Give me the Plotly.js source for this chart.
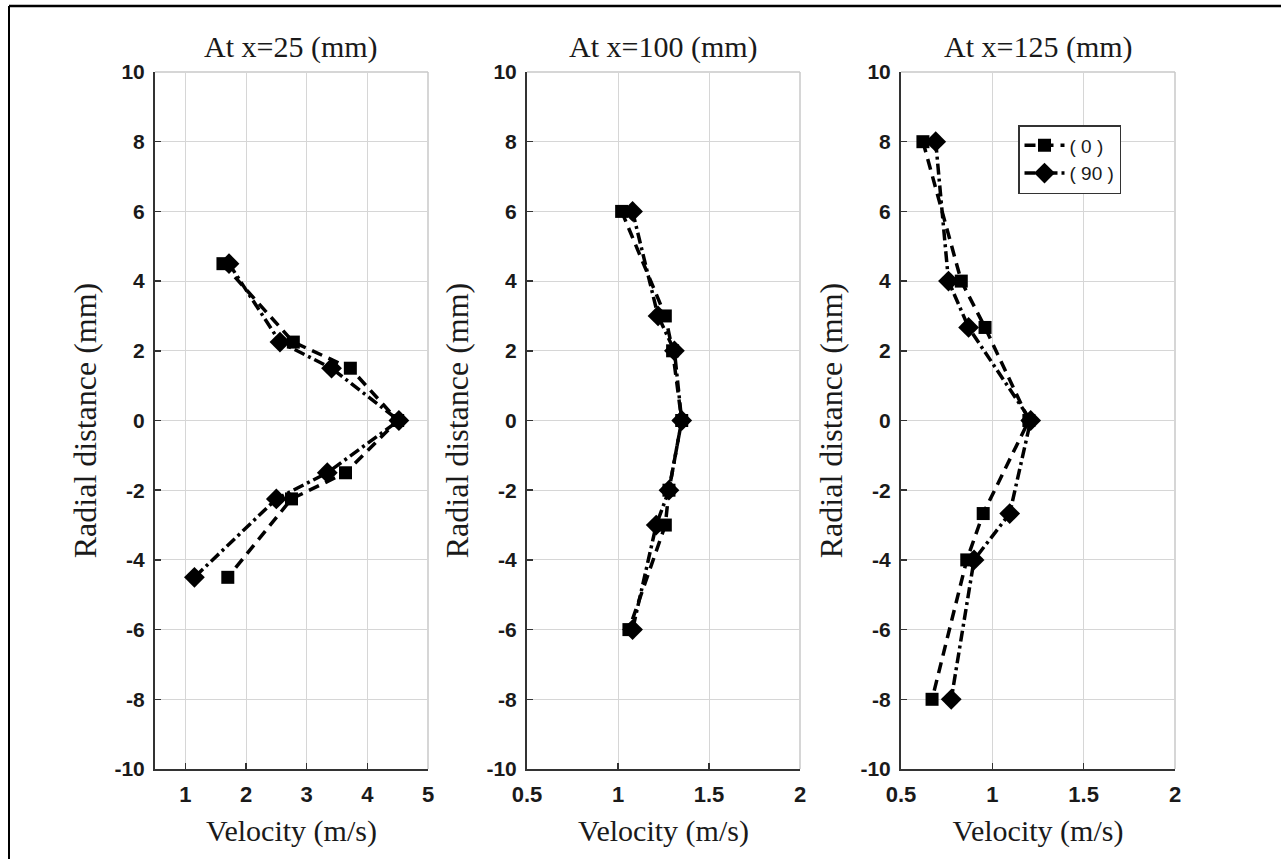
<!DOCTYPE html>
<html>
<head>
<meta charset="utf-8">
<script src="https://cdn.plot.ly/plotly-3.0.1.min.js"></script>
<style>
  html, body { margin: 0; padding: 0; background: #fff; }
  #chart { width: 1281px; height: 859px; }
</style>
</head>
<body>
<div id="chart"></div>
<script>
// ---- Data ----
const panelTitles = ["At x=25 (mm)", "At x=100 (mm)", "At x=125 (mm)"];
const seriesNames = ["( 0 )", "( 90 )"];

// Panel 1: x = 25 mm
const p1Radial = [4.5, 2.25, 1.5, 0, -1.5, -2.25, -4.5];
const p1Vel0   = [1.62, 2.78, 3.72, 4.50, 3.64, 2.75, 1.70];
const p1Vel90  = [1.72, 2.56, 3.41, 4.52, 3.34, 2.50, 1.15];

// Panel 2: x = 100 mm
const p2Radial = [6, 3, 2, 0, -2, -3, -6];
const p2Vel0   = [1.02, 1.26, 1.30, 1.35, 1.28, 1.26, 1.06];
const p2Vel90  = [1.08, 1.22, 1.31, 1.35, 1.28, 1.21, 1.08];

// Panel 3: x = 125 mm
const p3Radial = [8, 4, 2.67, 0, -2.67, -4, -8];
const p3Vel0   = [0.62, 0.83, 0.96, 1.20, 0.95, 0.86, 0.67];
const p3Vel90  = [0.69, 0.76, 0.87, 1.21, 1.095, 0.90, 0.775];

const p1XTicks = [1, 2, 3, 4, 5];
const p23XTicks = [0.5, 1, 1.5, 2];
const yTicks = [-10, -8, -6, -4, -2, 0, 2, 4, 6, 8, 10];

// ---- Layout geometry ----
const W = 1281, H = 859;
const px = v => v / W;
const py = v => 1 - v / H;
const xDomains = [[px(155), px(428)], [px(527), px(800)], [px(901), px(1175)]];
const yDomain = [py(769), py(72)];
const xRanges = [[0.5, 5], [0.5, 2], [0.5, 2]];

const serif = "Liberation Serif, Times New Roman, serif";
const sans = "Liberation Sans, Arial, sans-serif";
const ink = "#1a1a1a";

function mkTrace(x, y, idx, series, showlegend) {
  const ax = idx === 0 ? "" : String(idx + 1);
  return {
    type: "scatter",
    mode: "lines+markers",
    x: x, y: y,
    xaxis: "x" + ax, yaxis: "y" + ax,
    name: seriesNames[series],
    legendgroup: seriesNames[series],
    showlegend: showlegend,
    line: { color: "#000", width: 3.5, dash: series === 0 ? "11px,7px" : "11px,4px,3px,4px" },
    marker: series === 0
      ? { symbol: "square", size: 13, color: "#000" }
      : { symbol: "diamond", size: 16, color: "#000" },
    cliponaxis: false
  };
}

const traces = [
  mkTrace(p1Vel0, p1Radial, 0, 0, false),
  mkTrace(p1Vel90, p1Radial, 0, 1, false),
  mkTrace(p2Vel0, p2Radial, 1, 0, false),
  mkTrace(p2Vel90, p2Radial, 1, 1, false),
  mkTrace(p3Vel0, p3Radial, 2, 0, true),
  mkTrace(p3Vel90, p3Radial, 2, 1, true)
];

const layout = {
  width: W, height: H,
  margin: { l: 0, r: 0, t: 0, b: 0 },
  paper_bgcolor: "#fff",
  plot_bgcolor: "#fff",
  showlegend: true,
  legend: {
    x: px(1018), y: py(125), xanchor: "left", yanchor: "top",
    bgcolor: "#fff", bordercolor: "#333", borderwidth: 1.5,
    font: { family: sans, size: 19, color: ink },
    tracegroupgap: 0, itemwidth: 40
  },
  annotations: [],
  shapes: []
};

for (let i = 0; i < 3; i++) {
  const sfx = i === 0 ? "" : String(i + 1);
  layout["xaxis" + sfx] = {
    domain: xDomains[i],
    range: xRanges[i],
    anchor: "y" + sfx,
    tickmode: "array",
    tickvals: i === 0 ? p1XTicks : p23XTicks,
    ticktext: (i === 0 ? p1XTicks : p23XTicks).map(String),
    ticks: "inside", ticklen: 6, tickwidth: 1.5, tickcolor: "#333",
    showline: true, linecolor: "#333", linewidth: 2,
    showgrid: true, gridcolor: "#d6d6d6", gridwidth: 1,
    zeroline: false,
    tickfont: { family: sans, size: 22, color: ink, weight: "bold" },
    ticklabelstandoff: 5,
    title: { text: "Velocity (m/s)", font: { family: serif, size: 30, color: ink }, standoff: 14 },
    fixedrange: true
  };
  layout["yaxis" + sfx] = {
    domain: yDomain,
    range: [-10, 10],
    anchor: "x" + sfx,
    tickmode: "array",
    tickvals: yTicks,
    ticktext: yTicks.map(String),
    ticks: "inside", ticklen: 6, tickwidth: 1.5, tickcolor: "#333",
    showline: true, linecolor: "#333", linewidth: 2,
    showgrid: true, gridcolor: "#d6d6d6", gridwidth: 1,
    zeroline: false,
    tickfont: { family: sans, size: 21, color: ink, weight: "bold" },
    ticklabelstandoff: 4,
    title: { text: "Radial distance (mm)", font: { family: serif, size: 32, color: ink }, standoff: 8 },
    fixedrange: true
  };
  // subplot title
  layout.annotations.push({
    text: panelTitles[i],
    xref: "paper", yref: "paper",
    x: (xDomains[i][0] + xDomains[i][1]) / 2, y: py(47),
    xanchor: "center", yanchor: "middle",
    showarrow: false,
    font: { family: serif, size: 30, color: ink }
  });
  // light-grey top and right frame lines of each panel
  layout.shapes.push({
    type: "line", xref: "x" + sfx + " domain", yref: "y" + sfx + " domain",
    x0: 0, x1: 1, y0: 1, y1: 1, line: { color: "#c8c8c8", width: 1.5 }, layer: "below"
  });
  layout.shapes.push({
    type: "line", xref: "x" + sfx + " domain", yref: "y" + sfx + " domain",
    x0: 1, x1: 1, y0: 0, y1: 1, line: { color: "#c8c8c8", width: 1.5 }, layer: "below"
  });
}

// outer frame (top and left edges of the figure)
layout.shapes.push({ type: "line", xref: "paper", yref: "paper", x0: px(9), x1: 1, y0: py(6), y1: py(6), line: { color: "#000", width: 2.5 } });
layout.shapes.push({ type: "line", xref: "paper", yref: "paper", x0: px(9), x1: px(9), y0: py(6), y1: 0, line: { color: "#000", width: 2 } });

Plotly.newPlot("chart", traces, layout, { displayModeBar: false, staticPlot: true });
</script>
</body>
</html>
